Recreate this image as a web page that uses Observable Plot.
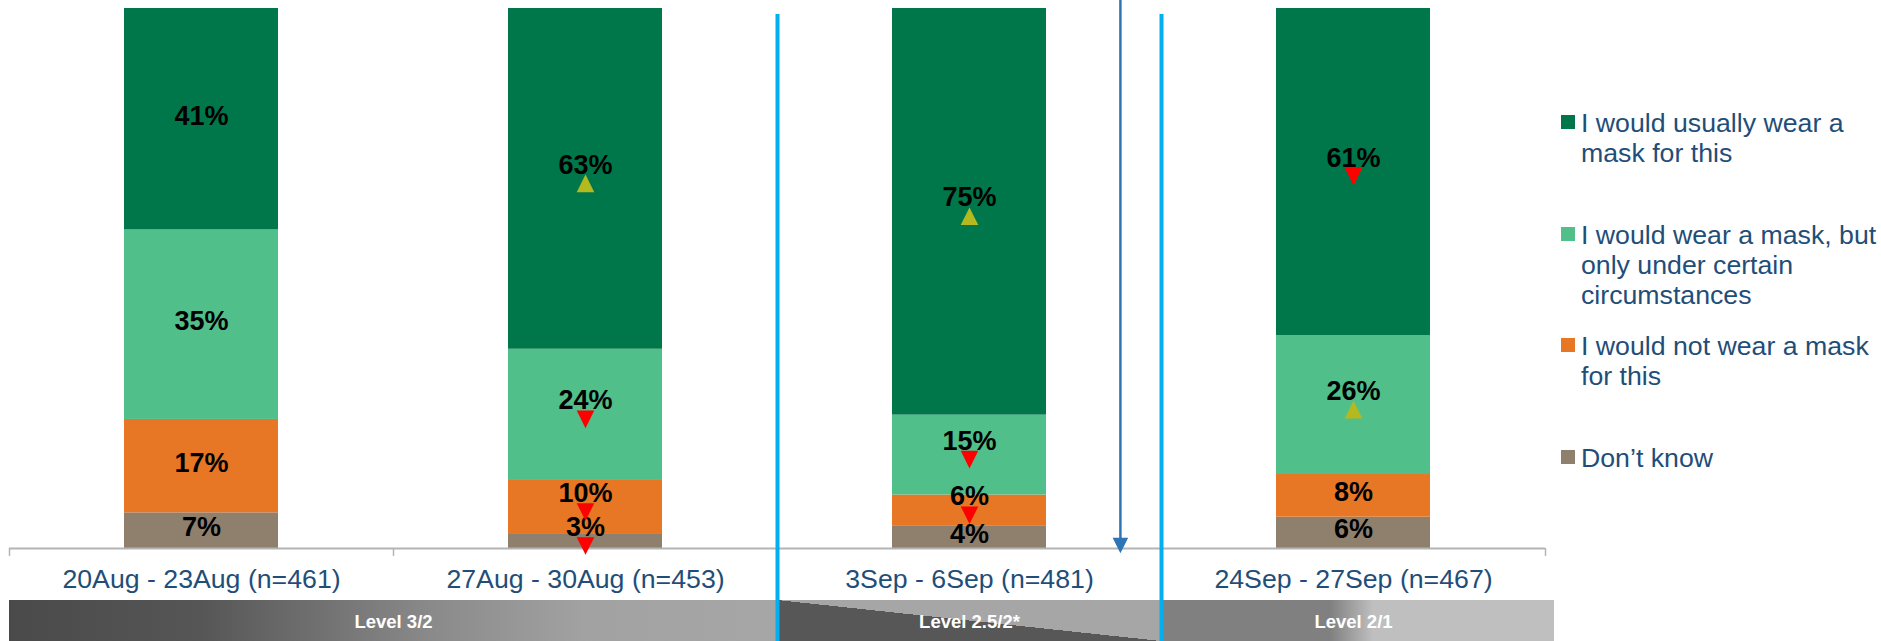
<!DOCTYPE html>
<html>
<head>
<meta charset="utf-8">
<script src="https://cdn.jsdelivr.net/npm/d3@7"></script>
<script src="https://cdn.jsdelivr.net/npm/@observablehq/plot@0.6"></script>
<style>
html, body { margin: 0; padding: 0; background: #fff; overflow: hidden; }
#wrap { position: relative; width: 1881px; height: 641px; overflow: hidden; font-family: "Liberation Sans", Arial, sans-serif; }
#main { position: absolute; left: 0; top: 0; }
#strip { position: absolute; left: 0; top: 600px; }
#legend { position: absolute; left: 1561px; top: 0; }
.lg-sq { position: absolute; left: 0; width: 14px; height: 14px; }
.lg-tx { position: absolute; left: 20px; font-size: 26.7px; line-height: 30px; color: #1f4e79; white-space: nowrap; }
</style>
</head>
<body>
<div id="wrap"><div id="main"></div><div id="strip"></div><div id="legend"></div></div>
<script>
// ---- data ----
const categories = ["20Aug - 23Aug (n=461)", "27Aug - 30Aug (n=453)", "3Sep - 6Sep (n=481)", "24Sep - 27Sep (n=467)"];
const responses = ["Don’t know", "I would not wear a mask for this", "I would wear a mask, but only under certain circumstances", "I would usually wear a mask for this"];
const responseColors = ["#8f806e", "#e77724", "#50bf89", "#00774a"];
const usually = [41.0, 63.1, 75.3, 60.6];
const certain = [35.1, 24.3, 14.8, 25.7];
const notWear = [17.3, 10.0, 5.8, 7.9];
const dontKnow = [6.6, 2.6, 4.1, 5.8];
const usuallyTrend = [null, "up", "up", "down"];
const certainTrend = [null, "down", "down", "up"];
const notWearTrend = [null, "down", "down", null];
const dontKnowTrend = [null, "down", null, null];
const levelNames = ["Level 3/2", "Level 2.5/2*", "Level 2/1"];
const levelStart = [0, 2, 3];
const levelEnd = [2, 3, 4];
const legendOrder = [3, 2, 1, 0];
const legendLines = [
  ["I would usually wear a", "mask for this"],
  ["I would wear a mask, but", "only under certain", "circumstances"],
  ["I would not wear a mask", "for this"],
  ["Don’t know"]
];

// ---- build rows ----
const seriesValues = [dontKnow, notWear, certain, usually];
const seriesTrends = [dontKnowTrend, notWearTrend, certainTrend, usuallyTrend];
const rows = [];
categories.forEach((c, i) => {
  let base = 0;
  responses.forEach((r, j) => {
    const v = seriesValues[j][i];
    rows.push({category: c, response: r, value: v, mid: base + v / 2, trend: seriesTrends[j][i]});
    base += v;
  });
});

// ---- layout ----
const W = 1881, H = 600, mL = 9, mR = 336, mT = 8, mB = 52;
const step = (W - mL - mR) / categories.length;
const font = '"Liberation Sans", Arial, sans-serif';
const upTri = {draw(ctx, size) { const r = Math.sqrt(size / Math.PI); ctx.moveTo(0, -r); ctx.lineTo(r, r); ctx.lineTo(-r, r); ctx.closePath(); }};
const downTri = {draw(ctx, size) { const r = Math.sqrt(size / Math.PI); ctx.moveTo(0, r); ctx.lineTo(r, -r); ctx.lineTo(-r, -r); ctx.closePath(); }};
const fmt = d => Math.round(d.value) + "%";

const main = Plot.plot({
  width: W, height: H, marginLeft: mL, marginRight: mR, marginTop: mT, marginBottom: mB,
  style: {fontFamily: font, background: "transparent", overflow: "visible"},
  x: {domain: categories, paddingInner: 0.6, paddingOuter: 0.3, axis: null},
  y: {domain: [0, 100], axis: null},
  color: {domain: responses, range: responseColors},
  marks: [
    Plot.barY(rows, Plot.stackY({x: "category", y: "value", fill: "response"})),
    Plot.ruleY([0], {stroke: "#b4b4b4", strokeWidth: 2}),
    Plot.ruleX(categories, {x: d => d, dx: -step / 2, stroke: "#b4b4b4", strokeWidth: 1.5, insetTop: H - mT - mB, insetBottom: -8}),
    Plot.ruleX(categories.slice(-1), {x: d => d, dx: step / 2, stroke: "#b4b4b4", strokeWidth: 1.5, insetTop: H - mT - mB, insetBottom: -8}),
    Plot.text(categories, {x: d => d, text: d => d, frameAnchor: "bottom", dy: 39, fontSize: 26.7, fill: "#1f4e79"}),
    Plot.ruleX(categories.slice(2), {x: d => d, dx: -step / 2, stroke: "#00b0f0", strokeWidth: 4, insetTop: 6, insetBottom: -mB}),
    Plot.ruleX([categories[2]], {x: d => d, dx: step * 0.393, stroke: "#2e75b6", strokeWidth: 2.5, insetTop: -mT, insetBottom: 10}),
    Plot.dot([categories[2]], {x: d => d, y: 0, dx: step * 0.393, dy: -3, symbol: downTri, r: 7.8, fill: "#2e75b6", stroke: null}),
    Plot.text(rows, {x: "category", y: "mid", text: d => d.trend ? fmt(d) : null, dy: -14, fontSize: 27, fontWeight: "bold", fill: "black"}),
    Plot.text(rows, {x: "category", y: "mid", text: d => d.trend ? null : fmt(d), dy: -3, fontSize: 27, fontWeight: "bold", fill: "black"}),
    Plot.dot(rows.filter(d => d.trend === "up"), {x: "category", y: "mid", dy: 4.5, symbol: upTri, r: 8.8, fill: "#b3b91f", stroke: null}),
    Plot.dot(rows.filter(d => d.trend === "down"), {x: "category", y: "mid", dy: 4.5, symbol: downTri, r: 8.8, fill: "#ff0000", stroke: null})
  ]
});
document.getElementById("main").appendChild(main);

// ---- level strip ----
const levels = levelNames.map((name, i) => ({name, start: levelStart[i], end: levelEnd[i]}));
const strip = Plot.plot({
  width: W, height: 41, marginLeft: mL, marginRight: mR, marginTop: 0, marginBottom: 0,
  style: {fontFamily: font, background: "transparent", overflow: "visible"},
  x: {domain: [0, 4], axis: null},
  marks: [
    ...levels.map((l, i) => Plot.rect([l], {x1: "start", x2: "end", fill: `url(#lvl${i})`, insetRight: i === levels.length - 1 ? -9 : 0})),
    Plot.ruleX(levelStart.slice(1), {stroke: "#00b0f0", strokeWidth: 4}),
    Plot.text(levels, {x: d => (d.start + d.end) / 2, text: "name", frameAnchor: "middle", dy: 1, fill: "white", fontWeight: "bold", fontSize: 18.5})
  ]
});
d3.select(strip).insert("defs", ":first-child").html(`
  <linearGradient id="lvl0" x1="0" y1="0" x2="1" y2="0">
    <stop offset="0" stop-color="#4a4a4a"/>
    <stop offset="0.25" stop-color="#565656"/>
    <stop offset="0.55" stop-color="#8a8a8a"/>
    <stop offset="0.75" stop-color="#a2a2a2"/>
    <stop offset="1" stop-color="#a6a6a6"/>
  </linearGradient>
  <linearGradient id="lvl1" x1="0" y1="1" x2="1" y2="0">
    <stop offset="0" stop-color="#575757"/>
    <stop offset="0.5" stop-color="#575757"/>
    <stop offset="0.5" stop-color="#a6a6a6"/>
    <stop offset="1" stop-color="#a6a6a6"/>
  </linearGradient>
  <linearGradient id="lvl2" x1="0" y1="0" x2="1" y2="0">
    <stop offset="0" stop-color="#808080"/>
    <stop offset="0.43" stop-color="#808080"/>
    <stop offset="0.54" stop-color="#bfbfbf"/>
    <stop offset="1" stop-color="#bfbfbf"/>
  </linearGradient>`);
document.getElementById("strip").appendChild(strip);

// ---- legend ----
const sqTops = [115, 227, 338, 450];
const legend = document.getElementById("legend");
legendOrder.forEach((j, k) => {
  const sq = document.createElement("div");
  sq.className = "lg-sq";
  sq.style.top = sqTops[k] + "px";
  sq.style.background = responseColors[j];
  legend.appendChild(sq);
  const tx = document.createElement("div");
  tx.className = "lg-tx";
  tx.style.top = (sqTops[k] - 7) + "px";
  tx.innerHTML = legendLines[k].join("<br>");
  legend.appendChild(tx);
});
</script>
</body>
</html>
